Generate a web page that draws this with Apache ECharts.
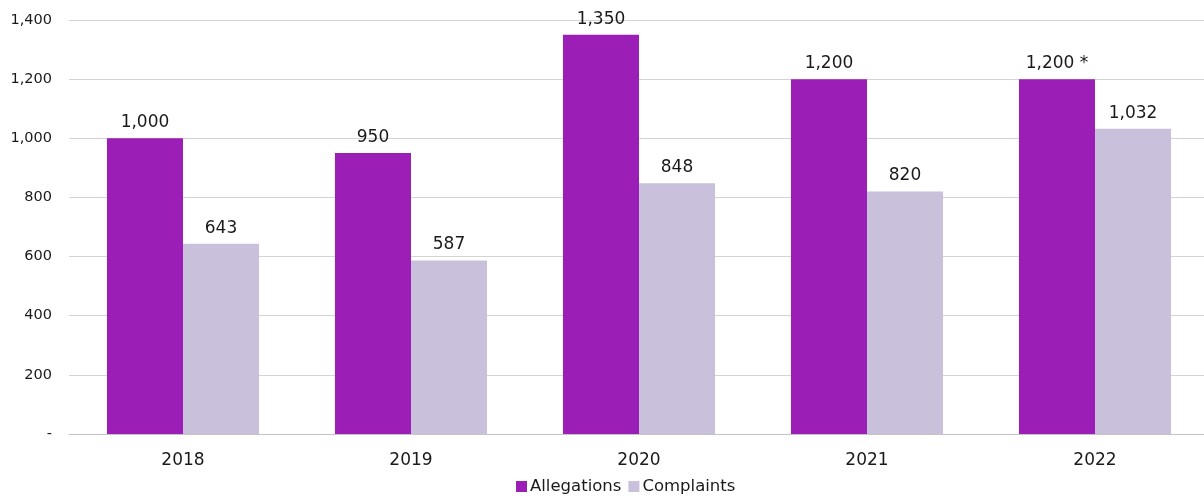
<!DOCTYPE html>
<html>
<head>
<meta charset="utf-8">
<style>
  html, body { margin: 0; padding: 0; background: #fff; }
  #chart { width: 1204px; height: 496px; }
</style>
<script src="https://cdn.jsdelivr.net/npm/echarts@6/dist/echarts.min.js"></script>
</head>
<body>
<div id="chart"></div>
<script>
const years = ['2018', '2019', '2020', '2021', '2022'];
const allegations = [1000, 950, 1350, 1200, 1200];
const complaints = [643, 587, 848, 820, 1032];
const allegationNotes = ['', '', '', '', ' *'];
const yTicks = [0, 200, 400, 600, 800, 1000, 1200, 1400];

const FONT = '"DejaVu Sans", sans-serif';
const fmt = v => v === 0 ? '-' : v.toLocaleString('en-US');

const chart = echarts.init(document.getElementById('chart'));
chart.setOption({
  animation: false,
  textStyle: { fontFamily: FONT, color: '#1a1a1a' },
  // plot area runs slightly past the right edge of the canvas
  grid: { left: 69, width: 1140, top: 20, bottom: 62, outerBoundsMode: 'none', containLabel: false },
  legend: {
    top: 473,
    left: 511,
    itemWidth: 11,
    itemHeight: 11,
    itemGap: 7,
    icon: 'rect',
    textStyle: { fontFamily: FONT, fontSize: 16.5, color: '#1a1a1a', padding: [0, 0, 0, -2] },
    data: ['Allegations', 'Complaints']
  },
  xAxis: {
    type: 'category',
    data: years,
    axisTick: { show: false },
    axisLine: { lineStyle: { color: '#c4c4c4', width: 1 } },
    axisLabel: { fontFamily: FONT, fontSize: 17, color: '#1a1a1a', margin: 18 }
  },
  yAxis: {
    type: 'value',
    min: yTicks[0],
    max: yTicks[yTicks.length - 1],
    interval: 200,
    axisLine: { show: false },
    axisTick: { show: false },
    splitLine: { lineStyle: { color: '#d4d4d4', width: 1 } },
    axisLabel: { fontFamily: FONT, fontSize: 14.5, color: '#1a1a1a', margin: 17, formatter: fmt }
  },
  series: [
    {
      name: 'Allegations',
      type: 'bar',
      data: allegations,
      barGap: '0%',
      barCategoryGap: '33.3%',
      itemStyle: { color: '#9b1fb6' },
      label: {
        show: true,
        position: 'top',
        distance: 7,
        fontFamily: FONT,
        fontSize: 17,
        color: '#1a1a1a',
        formatter: p => fmt(p.value) + allegationNotes[p.dataIndex]
      }
    },
    {
      name: 'Complaints',
      type: 'bar',
      data: complaints,
      itemStyle: { color: '#c9c0db' },
      label: {
        show: true,
        position: 'top',
        distance: 7,
        fontFamily: FONT,
        fontSize: 17,
        color: '#1a1a1a',
        formatter: p => fmt(p.value)
      }
    }
  ]
});
</script>
</body>
</html>
